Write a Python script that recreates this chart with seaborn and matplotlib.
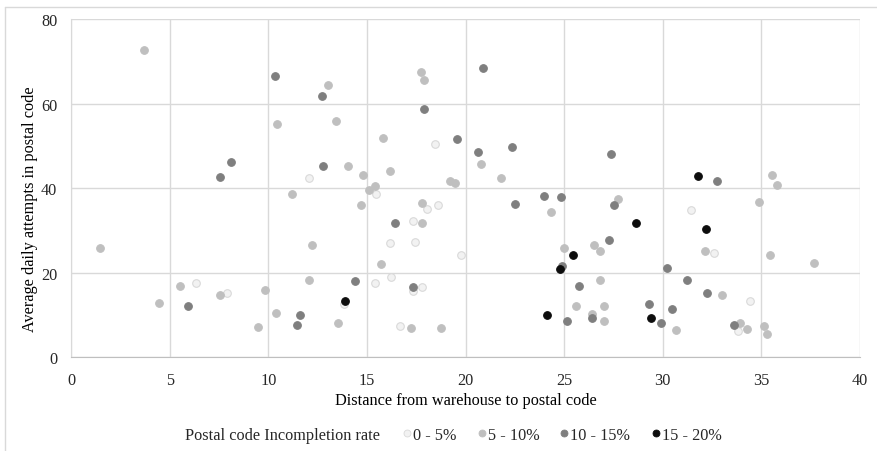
import matplotlib
matplotlib.use("Agg")
import matplotlib.pyplot as plt
from matplotlib.lines import Line2D
import seaborn as sns
import pandas as pd

# Incompletion-rate groups
groups = ["0 - 5%", "5 - 10%", "10 - 15%", "15 - 20%"]

# 0 - 5 %
dist_0_5 = [6.34, 7.89, 12.05, 13.84, 15.39, 15.46, 16.15, 16.24, 16.66, 17.32, 17.35,
            17.42, 17.77, 18.04, 18.43, 18.62, 19.78, 31.41, 32.62, 33.84, 34.4]
att_0_5 = [17.7, 15.2, 42.5, 12.6, 17.5, 38.7, 27.1, 19.0, 7.5, 15.6, 32.3,
           27.4, 16.6, 35.2, 50.4, 36.0, 24.2, 34.9, 24.7, 6.2, 13.4]

# 5 - 10 %
dist_5_10 = [1.47, 3.72, 4.48, 5.51, 7.57, 9.46, 9.85, 10.37, 10.46, 11.22, 12.05, 12.2,
             13.03, 13.45, 13.52, 14.06, 14.68, 14.8, 15.1, 15.42, 15.71, 15.81, 16.15,
             17.22, 17.74, 17.77, 17.77, 17.87, 18.77, 19.21, 19.45, 20.81, 21.79, 24.31,
             24.97, 25.61, 26.39, 26.49, 26.8, 26.8, 27.03, 27.03, 27.74, 30.68, 32.12,
             33.0, 33.92, 34.25, 34.89, 35.14, 35.29, 35.44, 35.56, 35.78, 37.67]
att_5_10 = [25.9, 72.7, 12.9, 16.9, 14.8, 7.2, 16.0, 10.4, 55.2, 38.7, 18.2, 26.6,
            64.5, 55.9, 8.1, 45.4, 36.1, 43.2, 39.6, 40.5, 22.2, 52.0, 44.0,
            6.9, 67.5, 36.5, 31.9, 65.7, 7.0, 41.8, 41.3, 45.8, 42.4, 34.3,
            25.8, 12.2, 10.3, 26.5, 25.2, 18.4, 12.1, 8.7, 37.5, 6.5, 25.1,
            14.8, 8.1, 6.7, 36.8, 7.4, 5.6, 24.2, 43.2, 40.9, 22.3]

# 10 - 15 %
dist_10_15 = [5.95, 7.53, 8.12, 10.36, 11.47, 11.6, 12.72, 12.77, 14.41, 16.44, 17.32,
              17.92, 19.55, 20.63, 20.9, 22.35, 22.5, 23.99, 24.82, 24.87, 25.14, 25.75,
              26.41, 27.3, 27.4, 27.54, 29.3, 29.89, 30.21, 30.48, 31.22, 32.25, 32.74, 33.6]
att_10_15 = [12.1, 42.6, 46.3, 66.5, 7.6, 10.0, 61.9, 45.2, 18.0, 31.9, 16.7,
             58.7, 51.7, 48.5, 68.5, 49.8, 36.4, 38.1, 38.0, 21.5, 8.7, 16.9,
             9.2, 27.8, 48.2, 36.0, 12.7, 8.1, 21.2, 11.4, 18.3, 15.3, 41.7, 7.6]

# 15 - 20 %
dist_15_20 = [13.89, 24.13, 24.77, 25.43, 28.62, 29.38, 31.8, 32.2]
att_15_20 = [13.4, 9.9, 20.9, 24.1, 31.9, 9.3, 43.0, 30.4]

x_ticks = [0, 5, 10, 15, 20, 25, 30, 35, 40]
y_ticks = [0, 20, 40, 60, 80]

fill = {"0 - 5%": "#F2F2F2", "5 - 10%": "#BFBFBF", "10 - 15%": "#7F7F7F", "15 - 20%": "#0D0D0D"}
edge = {"0 - 5%": "#D9D9D9", "5 - 10%": "#BFBFBF", "10 - 15%": "#7F7F7F", "15 - 20%": "#0D0D0D"}

frames = []
for g, xs, ys in zip(groups,
                     [dist_0_5, dist_5_10, dist_10_15, dist_15_20],
                     [att_0_5, att_5_10, att_10_15, att_15_20]):
    frames.append(pd.DataFrame({"distance": xs, "attempts": ys, "rate": g}))
df = pd.concat(frames, ignore_index=True)

sns.set_style("white")
plt.rcParams["font.family"] = ["Liberation Serif", "DejaVu Serif"]
FS = 11.7

fig = plt.figure(figsize=(8.77, 4.52), dpi=100)
ax = fig.add_axes([0.081, 0.2073, 0.8996, 0.7477])

for g in groups:
    sub = df[df["rate"] == g]
    sns.scatterplot(data=sub, x="distance", y="attempts", ax=ax, s=30,
                    color=fill[g], edgecolor=edge[g], linewidth=0.8, legend=False, zorder=3)

ax.set_xlim(0, 40)
ax.set_ylim(0, 80)
ax.set_xticks(x_ticks)
ax.set_yticks(y_ticks)
ax.grid(True, color="#D9D9D9", linewidth=1.0)
ax.set_axisbelow(True)
for side in ["top", "right"]:
    ax.spines[side].set_visible(False)
ax.spines["left"].set_color("#D9D9D9")
ax.spines["bottom"].set_color("#BFBFBF")
ax.tick_params(axis="both", length=0, labelsize=FS, colors="#262626")
ax.tick_params(axis="y", pad=10)
ax.tick_params(axis="x", pad=10.5)
ax.set_xlabel("Distance from warehouse to postal code", fontsize=FS, color="#000000", labelpad=3)
ax.set_ylabel("Average daily attempts in postal code", fontsize=FS, color="#000000")
ax.yaxis.set_label_coords(-0.042, 0.442)

# chart-area border (left and top edges)
W, H = 877.0, 452.0
fig.add_artist(Line2D([5 / W, 5 / W], [0, 1 - 8 / H], transform=fig.transFigure,
                      color="#D9D9D9", linewidth=1.0))
fig.add_artist(Line2D([5 / W, 1], [1 - 8 / H, 1 - 8 / H], transform=fig.transFigure,
                      color="#D9D9D9", linewidth=1.0))

fig.text(185 / W, 1 - 436 / H, "Postal code Incompletion rate", fontsize=FS,
         va="center", ha="left")
handles = [Line2D([], [], marker="o", linestyle="none", markersize=5,
                  markerfacecolor=fill[g], markeredgecolor=edge[g], markeredgewidth=0.6)
           for g in groups]
fig.legend(handles, groups, loc="center left", bbox_to_anchor=(403 / W, 1 - 436 / H), ncol=4,
           frameon=False, fontsize=FS, handlelength=0.5, handletextpad=0.12,
           columnspacing=1.3, borderaxespad=0, borderpad=0)

fig.savefig("out.png", dpi=100)
